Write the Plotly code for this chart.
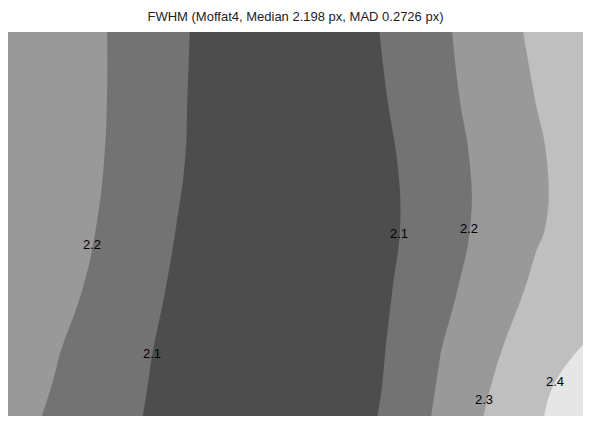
import plotly.graph_objects as go

# Grid coordinates (detector position, arbitrary units)
x_cols = [0, 48, 96, 144, 192, 240, 288, 336, 384, 432, 480, 528, 576]
y_rows = [0, 32, 64, 128, 192, 256, 320, 384]

fwhm_y0 = [2.234, 2.186, 2.139, 2.091, 2.050, 2.020, 2.010, 2.036, 2.126, 2.215, 2.307, 2.385, 2.464]
fwhm_y0b = [2.246, 2.196, 2.146, 2.096, 2.050, 2.020, 2.011, 2.027, 2.117, 2.206, 2.293, 2.370, 2.446]
fwhm_y1 = [2.258, 2.205, 2.153, 2.101, 2.049, 2.020, 2.012, 2.024, 2.111, 2.197, 2.282, 2.344, 2.402]
fwhm_y2 = [2.285, 2.232, 2.175, 2.117, 2.059, 2.035, 2.020, 2.030, 2.098, 2.172, 2.244, 2.315, 2.385]
fwhm_y3 = [2.280, 2.251, 2.191, 2.131, 2.071, 2.045, 2.030, 2.025, 2.087, 2.157, 2.223, 2.286, 2.348]
fwhm_y4 = [2.280, 2.253, 2.2005, 2.141, 2.082, 2.055, 2.040, 2.035, 2.092, 2.159, 2.224, 2.285, 2.346]
fwhm_y5 = [2.280, 2.255, 2.204, 2.144, 2.085, 2.060, 2.048, 2.040, 2.106, 2.173, 2.238, 2.301, 2.365]
fwhm_y6 = [2.280, 2.255, 2.204, 2.146, 2.088, 2.065, 2.052, 2.052, 2.116, 2.182, 2.249, 2.317, 2.385]

z = [fwhm_y0, fwhm_y0b, fwhm_y1, fwhm_y2, fwhm_y3, fwhm_y4, fwhm_y5, fwhm_y6]

level_start, level_end, level_step = 2.1, 2.4, 0.1
title_text = "FWHM (Moffat4, Median 2.198 px, MAD 0.2726 px)"

# Contour labels (level text) as drawn in the chart
label_levels = ["2.2", "2.1", "2.1", "2.2", "2.3", "2.4"]

colorscale = [
    [0.0, "#4d4d4d"],
    [0.25, "#737373"],
    [0.5, "#999999"],
    [0.75, "#bfbfbf"],
    [1.0, "#e6e6e6"],
]

FONT = "Liberation Sans, Arial, sans-serif"

fig = go.Figure(
    go.Contour(
        x=x_cols,
        y=y_rows,
        z=z,
        autocontour=False,
        contours=dict(
            start=level_start,
            end=level_end,
            size=level_step,
            coloring="fill",
            showlabels=False,
        ),
        colorscale=colorscale,
        line=dict(width=0, smoothing=1.3),
        showscale=False,
        hoverinfo="skip",
    )
)

# label placement along the contour lines (layout positions)
label_pos = [(84, 172), (144, 63), (392, 183), (462, 188), (477, 17), (548, 35)]
for txt, (lx, ly) in zip(label_levels, label_pos):
    fig.add_annotation(
        x=lx, y=ly, xref="x", yref="y", text=txt, showarrow=False,
        font=dict(size=13, color="black", family=FONT),
        xanchor="center", yanchor="middle",
    )

fig.update_layout(
    width=583,
    height=416,
    margin=dict(l=0, r=8, t=24, b=8),
    paper_bgcolor="white",
    plot_bgcolor="white",
    title=dict(
        text=title_text,
        x=0.5 * 575 / 583,
        xanchor="center",
        y=1 - 8 / 416,
        yanchor="middle",
        font=dict(size=13, color="#222222", family=FONT),
    ),
    xaxis=dict(range=[0, 576], showgrid=False, zeroline=False, visible=False),
    yaxis=dict(range=[0, 384], showgrid=False, zeroline=False, visible=False),
)

fig.write_html("out.html")
